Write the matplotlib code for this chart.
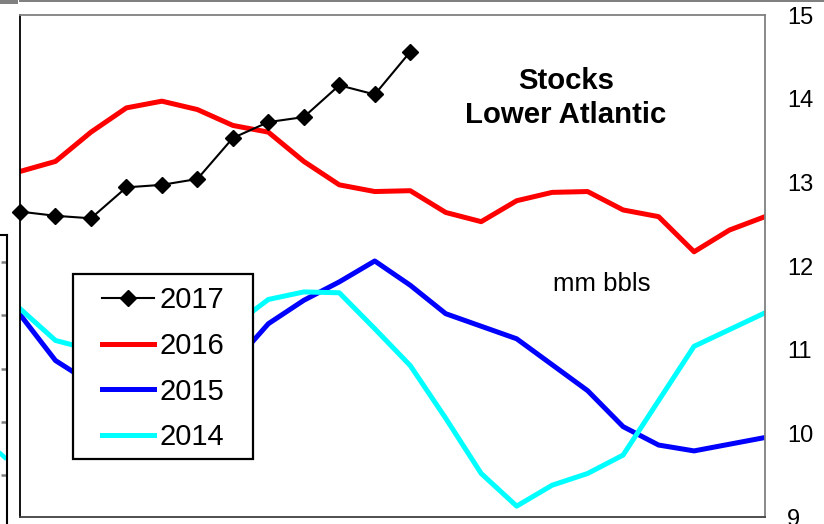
import numpy as np
import matplotlib
matplotlib.use("Agg")
import matplotlib.pyplot as plt
from matplotlib.patches import Rectangle

plt.rcParams['font.family'] = ['Liberation Sans', 'DejaVu Sans']

# weekly stock levels, mm bbls
weeks = np.arange(22)
s2017 = [12.65, 12.60, 12.57, 12.94, 12.97, 13.04, 13.53, 13.72, 13.78, 14.16, 14.05, 14.56]
s2016 = [13.13, 13.25, 13.60, 13.89, 13.97, 13.87, 13.68, 13.60, 13.25, 12.97, 12.89,
         12.90, 12.64, 12.53, 12.78, 12.88, 12.89, 12.67, 12.59, 12.17, 12.43, 12.59]
s2015 = [11.42, 10.87, 10.60, 10.51, 10.50, 10.62, 10.83, 11.31, 11.59, 11.81, 12.06,
         11.77, 11.43, 11.28, 11.13, 10.82, 10.51, 10.08, 9.86, 9.79, 9.87, 9.95]
s2014 = [11.49, 11.11, 11.00, 10.95, 11.00, 11.13, 11.28, 11.60, 11.69, 11.68, 11.25,
         10.81, 10.18, 9.52, 9.13, 9.38, 9.52, 9.74, 10.39, 11.04, 11.24, 11.44]
yticks = [9, 10, 11, 12, 13, 14, 15]

# edge of the neighbouring chart (cut off on the left)
prev_ticks = [0, 1, 2, 3, 4]
prev_x = [0.9, 1.0]
prev_2014 = [0.59, 0.30]

W, H = 824, 524
fig = plt.figure(figsize=(W / 100, H / 100), dpi=100)

# neighbouring chart stub
axp = fig.add_axes([-0.2, 0, 0.2 + 6.5 / W, 1 - 235 / H])
axp.plot(prev_x, prev_2014, color='#00FFFF', lw=3.2, solid_capstyle='butt')
axp.set_xlim(0, 1)
axp.set_ylim(-0.92, 4.507)
axp.set_xticks([])
axp.set_yticks(prev_ticks)
axp.yaxis.tick_right()
axp.tick_params(axis='y', direction='in', length=4, width=1.8, colors='#808080', labelright=False)
for s in ['left', 'bottom']:
    axp.spines[s].set_visible(False)
axp.spines['right'].set_color('black')
axp.spines['top'].set_color('black')
axp.spines['right'].set_linewidth(1.5)
axp.spines['top'].set_linewidth(1.5)

ax = fig.add_axes([20 / W, 1 - 517 / H, 745 / W, 502 / H])
l15, = ax.plot(weeks, s2015, color='#0000FF', lw=3.6, label='2015')
l14, = ax.plot(weeks, s2014, color='#00FFFF', lw=3.6, label='2014')
l16, = ax.plot(weeks, s2016, color='#FF0000', lw=3.6, label='2016')
l17, = ax.plot(weeks[:len(s2017)], s2017, color='black', lw=1.5, marker='D',
               markersize=8, label='2017', clip_on=False, zorder=4)

ax.set_xlim(0, 21)
ax.set_ylim(9, 15)
ax.set_xticks([])
ax.set_yticks(yticks)
ax.yaxis.tick_right()
ax.tick_params(axis='y', length=0, pad=16, labelsize=17)

ax.spines['left'].set_color('black')
ax.spines['top'].set_color('#808080')
ax.spines['right'].set_color('#808080')
ax.spines['bottom'].set_color('#404040')
for s in ax.spines.values():
    s.set_linewidth(1.3)

ax.text(0.733, 0.835, 'Stocks\nLower Atlantic', transform=ax.transAxes,
        ha='center', va='center', fontsize=21.2, fontweight='bold', linespacing=1.3)
ax.text(0.781, 0.464, 'mm bbls', transform=ax.transAxes, ha='center', va='center',
        fontsize=18.5)

# legend frame drawn separately
frame = Rectangle((73 / W, 1 - 459 / H), 180 / W, 185 / H, transform=fig.transFigure,
                  facecolor='white', edgecolor='black', lw=1.6, zorder=5)
ax.add_patch(frame)
leg = ax.legend(handles=[l17, l16, l15, l14], loc='upper left',
                bbox_to_anchor=(102 / W, 1 - 286 / H), bbox_transform=fig.transFigure,
                frameon=False, fontsize=21, borderpad=0, borderaxespad=0,
                handlelength=1.78, handletextpad=0.2, labelspacing=0.61)
leg.set_zorder(6)

# thin grey rule along the top
fig.patches.append(Rectangle((0, 1 - 4 / H), 18 / W, 4 / H, transform=fig.transFigure,
                             facecolor='#808080', edgecolor='none'))
fig.patches.append(Rectangle((19 / W, 1 - 2 / H), 1, 2 / H, transform=fig.transFigure,
                             facecolor='#808080', edgecolor='none'))

fig.savefig('out.png', dpi=100)
